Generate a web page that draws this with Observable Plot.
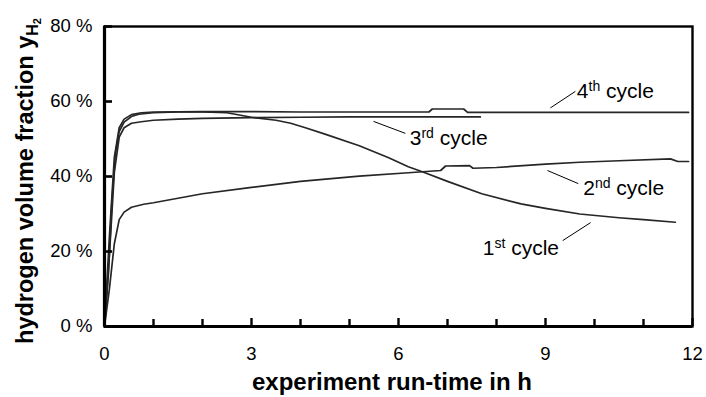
<!DOCTYPE html>
<html>
<head>
<meta charset="utf-8">
<script src="https://cdn.jsdelivr.net/npm/d3@7"></script>
<script src="https://cdn.jsdelivr.net/npm/@observablehq/plot@0.6"></script>
<style>
  html, body { margin: 0; padding: 0; background: #fff; }
  #chart { width: 706px; height: 397px; }
</style>
</head>
<body>
<div id="chart"></div>
<script>
// ---- data ----
const cycleNames = ["1st cycle", "2nd cycle", "3rd cycle", "4th cycle"];

const t1 = [0, 0.08, 0.15, 0.22, 0.3, 0.4, 0.55, 0.7, 1.0, 1.5, 2.0, 2.5, 3.0, 3.5, 3.8, 4.1, 4.5, 5.2, 5.8, 6.2, 6.5, 7.0, 7.7, 8.5, 9.0, 9.7, 10.5, 11.0, 11.65];
const v1 = [0, 14, 33, 46, 52, 54.5, 56, 56.6, 57, 57.2, 57.2, 57, 55.8, 55.0, 54.2, 53.0, 51.3, 48.2, 45.0, 42.6, 41.2, 38.7, 35.4, 32.7, 31.5, 30.0, 29.0, 28.5, 27.8];

const t2 = [0, 0.1, 0.2, 0.3, 0.4, 0.55, 0.8, 1.0, 1.5, 2.0, 3.0, 4.0, 5.2, 6.2, 6.86, 6.96, 7.45, 7.52, 8.0, 9.0, 9.7, 10.5, 11.55, 11.7, 11.92];
const v2 = [0, 10, 22, 28.5, 30.5, 31.8, 32.6, 33.0, 34.2, 35.4, 37.1, 38.7, 40.1, 41.0, 41.6, 42.8, 42.9, 42.2, 42.4, 43.3, 43.8, 44.2, 44.7, 44.0, 44.0];

const t3 = [0, 0.1, 0.2, 0.3, 0.4, 0.55, 0.75, 1.0, 1.5, 2.0, 3.0, 4.0, 5.0, 6.0, 7.0, 7.67];
const v3 = [0, 19, 41, 50.5, 53.0, 54.2, 54.6, 55.0, 55.3, 55.5, 55.7, 55.8, 55.9, 55.9, 55.9, 55.9];

const t4 = [0, 0.1, 0.2, 0.3, 0.4, 0.55, 0.75, 1.0, 2.0, 3.0, 4.0, 5.0, 6.0, 6.62, 6.69, 7.33, 7.41, 8.0, 9.0, 10.0, 11.0, 11.92];
const v4 = [0, 24, 45, 53, 55.3, 56.5, 57.0, 57.2, 57.3, 57.3, 57.2, 57.2, 57.2, 57.2, 58.0, 58.0, 57.1, 57.1, 57.1, 57.1, 57.1, 57.1];

// annotation labels: number, superscript, text baseline position, leader line ends
const labelNum = ["1", "2", "3", "4"];
const labelSup = ["st", "nd", "rd", "th"];
const labelT = [7.73, 9.78, 6.24, 9.65];
const labelV = [18.9, 34.9, 48.3, 60.8];
const leadT1 = [9.92, 9.04, 5.49, 9.10];
const leadV1 = [27.7, 41.6, 54.7, 58.3];
const leadT2 = [9.35, 9.67, 6.14, 9.61];
const leadV2 = [22.9, 38.1, 51.5, 62.7];

const yTicks = [0, 20, 40, 60, 80];
const xMajor = [0, 3, 6, 9, 12];
const xMinor = [1, 2, 4, 5, 7, 8, 10, 11];

const xTitle = "experiment run-time in h";
const yTitle = "hydrogen volume fraction y";

// ---- build tables ----
const series = [[t1, v1], [t2, v2], [t3, v3], [t4, v4]];
const rows = series.flatMap(([ts, vs], i) => ts.map((t, j) => ({cycle: cycleNames[i], t, v: vs[j]})));
const leaders = labelNum.map((n, i) => ({x1: leadT1[i], y1: leadV1[i], x2: leadT2[i], y2: leadV2[i]}));

const FONT = "'Liberation Sans', Arial, Helvetica, sans-serif";
const W = 706, H = 397, ML = 104, MR = 14, MT = 26, MB = 71;
const innerW = W - ML - MR, innerH = H - MT - MB;

const chart = Plot.plot({
  width: W,
  height: H,
  marginLeft: ML,
  marginRight: MR,
  marginTop: MT,
  marginBottom: MB,
  style: {fontFamily: FONT, background: "#fff", color: "#000"},
  x: {domain: [0, 12], label: null},
  y: {domain: [0, 80], label: null},
  marks: [
    Plot.line(rows, {x: "t", y: "v", z: "cycle", stroke: "#262626", strokeWidth: 1.7, curve: "linear"}),
    Plot.link(leaders, {x1: "x1", y1: "y1", x2: "x2", y2: "y2", stroke: "#000", strokeWidth: 1}),
    Plot.frame({stroke: "#000", strokeWidth: 2.4}),
    Plot.ruleX([0], {stroke: "#000", strokeWidth: 3.2}),
    Plot.ruleY([0], {stroke: "#000", strokeWidth: 3.2}),
    // inward tick marks
    Plot.tickY(yTicks, {y: d => d, insetRight: innerW - 8, stroke: "#000", strokeWidth: 2.6}),
    Plot.tickX(xMinor, {x: d => d, insetTop: innerH - 7, stroke: "#000", strokeWidth: 2.4}),
    Plot.tickX(xMajor, {x: d => d, insetTop: innerH - 8, stroke: "#000", strokeWidth: 2.4}),
    // tick labels
    Plot.axisY({ticks: yTicks, tickSize: 0, tickPadding: 12, tickFormat: d => d + " %", fontSize: 18.5, label: null}),
    Plot.axisX({ticks: xMajor, tickSize: 0, tickPadding: 20, tickFormat: d => String(d), fontSize: 18.5, label: null})
  ]
});

document.getElementById("chart").appendChild(chart);

const svg = d3.select(chart);
const xs = chart.scale("x");
const ys = chart.scale("y");

// cycle labels with superscripts
const lab = svg.append("g")
  .attr("font-family", FONT).attr("font-size", 21).attr("fill", "#000")
  .attr("text-anchor", "start");
labelNum.forEach((n, i) => {
  const t = lab.append("text")
    .attr("x", xs.apply(labelT[i]))
    .attr("y", ys.apply(labelV[i]));
  t.append("tspan").text(n);
  t.append("tspan").attr("font-size", 14).attr("dy", -7).text(labelSup[i]);
  t.append("tspan").attr("dy", 7).text(" cycle");
});

// axis titles
svg.append("text")
  .attr("x", 392).attr("y", 390)
  .attr("text-anchor", "middle")
  .attr("font-family", FONT).attr("font-weight", "bold").attr("font-size", 24)
  .text(xTitle);

const yt = svg.append("text")
  .attr("transform", "translate(33,181) rotate(-90)")
  .attr("text-anchor", "middle")
  .attr("font-family", FONT).attr("font-weight", "bold").attr("font-size", 23.5);
yt.append("tspan").text(yTitle);
yt.append("tspan").attr("font-size", 16).attr("dy", 5).text("H");
yt.append("tspan").attr("font-size", 11).attr("dy", 3).text("2");
</script>
</body>
</html>
